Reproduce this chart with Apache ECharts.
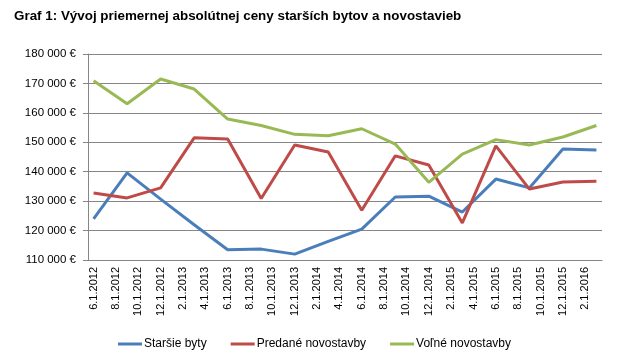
<!DOCTYPE html>
<html>
<head>
<meta charset="utf-8">
<script src="https://cdn.jsdelivr.net/npm/echarts@6/dist/echarts.min.js"></script>
<style>
html,body{margin:0;padding:0;background:#fff;}
#c{width:629px;height:358px;}
</style>
</head>
<body>
<div id="c"></div>
<script>
// Monthly category axis (labels shown every 2nd month)
var months = [
  '6.1.2012','7.1.2012','8.1.2012','9.1.2012','10.1.2012','11.1.2012','12.1.2012',
  '1.1.2013','2.1.2013','3.1.2013','4.1.2013','5.1.2013','6.1.2013','7.1.2013','8.1.2013','9.1.2013','10.1.2013','11.1.2013','12.1.2013',
  '1.1.2014','2.1.2014','3.1.2014','4.1.2014','5.1.2014','6.1.2014','7.1.2014','8.1.2014','9.1.2014','10.1.2014','11.1.2014','12.1.2014',
  '1.1.2015','2.1.2015','3.1.2015','4.1.2015','5.1.2015','6.1.2015','7.1.2015','8.1.2015','9.1.2015','10.1.2015','11.1.2015','12.1.2015',
  '1.1.2016','2.1.2016','3.1.2016'
];
// Quarterly observation dates
var pointDates = [
  '6.1.2012','9.1.2012','12.1.2012',
  '3.1.2013','6.1.2013','9.1.2013','12.1.2013',
  '3.1.2014','6.1.2014','9.1.2014','12.1.2014',
  '3.1.2015','6.1.2015','9.1.2015','12.1.2015',
  '3.1.2016'
];
var starsieByty = [124000,139600,130700,122000,113500,113700,112000,116300,120500,131400,131700,126300,137500,134500,147700,147400];
var predaneNovostavby = [132800,131100,134500,151500,151100,130900,149100,146700,126900,145400,142300,122600,148800,134100,136500,136800];
var volneNovostavby = [170900,163100,171500,168100,157900,155700,152700,152200,154600,149400,136400,146000,150900,149100,151800,155700];

function pairs(vals){ return pointDates.map(function(d,i){ return [d, vals[i]]; }); }

var chart = echarts.init(document.getElementById('c'));
var font = 'Liberation Sans, Arial, sans-serif';
chart.setOption({
  animation:false,
  title:{
    text:'Graf 1: Vývoj priemernej absolútnej ceny starších bytov a novostavieb',
    left:9, top:5,
    textStyle:{fontFamily:'Liberation Sans Narrow, Arial Narrow, sans-serif', fontWeight:'bold', fontSize:13.4, color:'#000'}
  },
  grid:{left:88, right:27, top:54, bottom:98},
  legend:{
    bottom:3, left:'center',
    itemWidth:24, itemHeight:3, itemGap:24,
    icon:'rect',
    textStyle:{fontFamily:font, fontSize:12, color:'#000', padding:[0,0,0,-3]},
    data:['Staršie byty','Predané novostavby','Voľné novostavby']
  },
  xAxis:{
    type:'category', data:months, boundaryGap:true,
    axisLine:{lineStyle:{color:'#868686'}},
    axisTick:{interval:1, length:5, lineStyle:{color:'#868686'}},
    axisLabel:{interval:1, rotate:90, fontFamily:font, fontSize:11, color:'#000', margin:7}
  },
  yAxis:{
    type:'value', min:110000, max:180000, interval:10000,
    axisLine:{show:true, lineStyle:{color:'#868686'}},
    axisTick:{show:true, length:5, lineStyle:{color:'#868686'}},
    splitLine:{lineStyle:{color:'#868686'}},
    axisLabel:{fontFamily:font, fontSize:11.5, color:'#000', margin:12,
      formatter:function(v){ return String(v).replace(/\B(?=(\d{3})+(?!\d))/g,' ') + ' €'; }}
  },
  series:[
    {name:'Staršie byty', type:'line', data:pairs(starsieByty), showSymbol:false, symbol:'none',
      lineStyle:{width:3, color:'#4a7ebb'}, itemStyle:{color:'#4a7ebb'}},
    {name:'Predané novostavby', type:'line', data:pairs(predaneNovostavby), showSymbol:false, symbol:'none',
      lineStyle:{width:3, color:'#be4b48'}, itemStyle:{color:'#be4b48'}},
    {name:'Voľné novostavby', type:'line', data:pairs(volneNovostavby), showSymbol:false, symbol:'none',
      lineStyle:{width:3, color:'#98b954'}, itemStyle:{color:'#98b954'}}
  ]
});
</script>
</body>
</html>
